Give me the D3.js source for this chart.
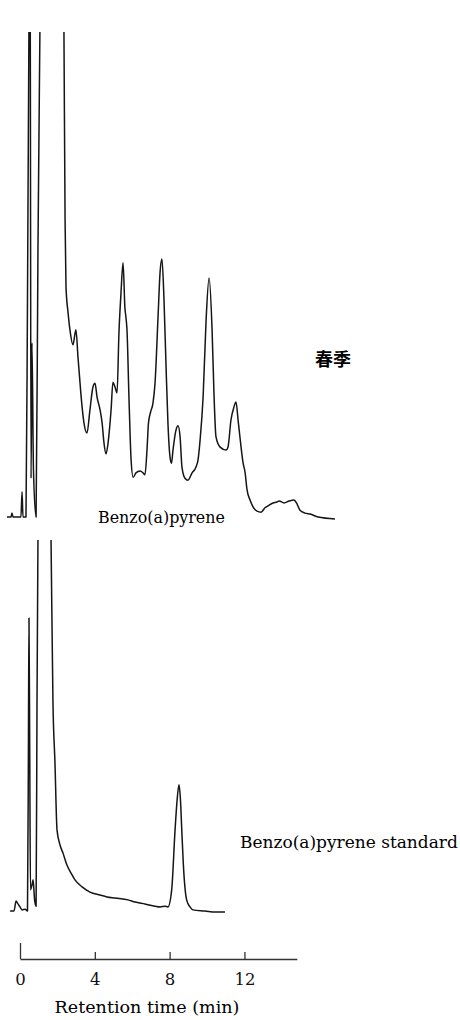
<!DOCTYPE html>
<html>
<head>
<meta charset="utf-8">
<script src="https://cdn.jsdelivr.net/npm/d3@7/dist/d3.min.js"></script>
<style>
  body { margin: 0; background: #fff; }
</style>
</head>
<body>
<svg id="chart" width="460" height="1020"></svg>
<script>
// spring sample chromatogram: retention time (min), response (100 = pen full scale)
const springTime = [-0.70, -0.48, -0.43, -0.37, 0.05, 0.11, 0.16, 0.32, 0.40, 0.48, 0.51, 0.55, 0.59, 0.64, 0.72, 0.86, 0.96, 1.07, 1.15, 2.25,
  2.35, 2.41, 2.46, 2.57, 2.67, 2.83, 2.99, 3.10, 3.21, 3.32, 3.42, 3.58, 3.74, 3.90, 4.01, 4.12, 4.28, 4.39, 4.49, 4.60,
  4.71, 4.87, 4.97, 5.08, 5.19, 5.29, 5.40, 5.51, 5.61, 5.67, 5.72, 5.83, 5.94, 6.05, 6.20, 6.42, 6.58, 6.68, 6.79, 6.87,
  6.98, 7.11, 7.22, 7.38, 7.49, 7.59, 7.70, 7.81, 7.91, 8.02, 8.10, 8.18, 8.34, 8.45, 8.56, 8.66, 8.82, 8.98, 9.20, 9.41,
  9.52, 9.63, 9.79, 9.95, 10.11, 10.27, 10.37, 10.48, 10.70, 11.02, 11.12, 11.28, 11.44, 11.55, 11.66, 11.76, 11.93, 12.03, 12.14, 12.30,
  12.46, 12.67, 12.89, 13.10, 13.26, 13.53, 13.74, 13.85, 14.12, 14.39, 14.65, 14.81, 14.97, 15.24, 15.51, 15.94, 16.84];
const springSignal = [0, 0, 0.8, 0, 0, 5.2, 0, 0, 44.7, 102.5, 130, 100, 8.0, 35.9, 9.7, 0, 55.1, 102.5, 140, 140,
  100, 61.2, 47.4, 42.1, 38.6, 35.5, 38.6, 33.0, 27.6, 22.7, 19.4, 17.3, 22.1, 26.8, 27.6, 24.7, 22.1, 19.4, 15.3, 13.0,
  15.3, 22.1, 27.8, 26.8, 25.6, 37.9, 46.2, 52.4, 43.1, 41.0, 38.6, 24.1, 11.8, 8.2, 9.1, 9.5, 9.1, 8.7, 13.8, 19.4,
  21.6, 23.5, 27.6, 41.2, 50.5, 53.2, 44.7, 30.9, 19.4, 12.4, 11.1, 13.8, 17.9, 18.8, 16.5, 10.3, 8.0, 7.6, 9.1, 10.3,
  11.8, 15.9, 24.7, 40.6, 49.3, 38.6, 25.6, 16.5, 14.4, 13.8, 14.4, 20.0, 22.7, 23.7, 20.0, 16.5, 11.1, 9.3, 5.6, 3.5,
  2.1, 1.2, 1.0, 1.9, 2.3, 2.9, 3.1, 3.3, 2.9, 3.3, 3.5, 2.7, 1.4, 0.8, 0.6, 0, -0.4];

// benzo(a)pyrene standard chromatogram
const stdTime = [-0.53, -0.32, -0.21, -0.11, 0, 0.11, 0.27, 0.40, 0.45, 0.48, 0.52, 0.56, 0.64, 0.70, 0.78, 0.86, 0.91, 0.96, 1.02, 1.55,
  1.66, 1.76, 1.87, 1.98, 2.14, 2.30, 2.51, 2.73, 2.94, 3.32, 3.74, 4.28, 4.65, 5.08, 5.78, 6.15, 6.68, 7.22, 7.49, 7.75,
  7.91, 8.11, 8.29, 8.40, 8.50, 8.58, 8.65, 8.73, 8.91, 9.09, 9.25, 9.89, 10.43, 10.96];
const stdSignal = [0, 0, 2.7, 1.9, 1.1, 0.3, 0.5, 0, 43.4, 79.0, 43.4, 5.7, 7.0, 8.4, 3.0, 1.3, 56.9, 100, 140, 140,
  100, 56.9, 39.9, 21.8, 17.8, 15.6, 12.4, 10.2, 8.4, 6.5, 5.1, 4.3, 3.8, 3.5, 3.0, 2.4, 1.9, 1.3, 1.1, 1.3,
  1.1, 5.7, 21.8, 29.9, 34.0, 29.9, 21.8, 12.9, 3.0, 1.1, 0.3, 0, -0.3, -0.3];

const tickValues = [0, 4, 8, 12];
const axisEnd = 14.8;

const svg = d3.select("#chart");
const serif = "'DejaVu Serif', 'Liberation Serif', serif";

const x = d3.scaleLinear().domain([0, axisEnd]).range([20, 296.8]);
const ySpring = d3.scaleLinear().domain([0, 100]).range([517, 32]);
const yStd = d3.scaleLinear().domain([0, 100]).range([911, 540]);

const defs = svg.append("defs");
defs.append("clipPath").attr("id", "clipSpring")
  .append("rect").attr("x", 0).attr("y", ySpring(100)).attr("width", 460).attr("height", 500);
defs.append("clipPath").attr("id", "clipStd")
  .append("rect").attr("x", 0).attr("y", yStd(100)).attr("width", 460).attr("height", 400);

function drawTrace(times, values, y, clipId) {
  const pts = times.map((t, i) => [t, values[i]]);
  const line = d3.line()
    .x(d => x(d[0]))
    .y(d => y(d[1]))
    .curve(d3.curveMonotoneX);
  svg.append("path")
    .datum(pts)
    .attr("clip-path", `url(#${clipId})`)
    .attr("fill", "none")
    .attr("stroke", "#151515")
    .attr("stroke-width", 1.5)
    .attr("stroke-linejoin", "round")
    .attr("d", line);
}

drawTrace(springTime, springSignal, ySpring, "clipSpring");
drawTrace(stdTime, stdSignal, yStd, "clipStd");

// scale a label's font so it spans about the same width as in the print
function fitWidth(sel, w) {
  const size = +sel.attr("font-size");
  const len = sel.node().getComputedTextLength();
  sel.attr("font-size", (size * w / len).toFixed(2));
}

svg.append("text")
  .attr("x", 333).attr("y", 366)
  .attr("text-anchor", "middle")
  .attr("font-family", "'Noto Sans CJK JP', 'Noto Sans CJK SC', sans-serif")
  .attr("font-size", 18).attr("font-weight", "bold")
  .text("春季");

svg.append("text")
  .attr("x", 98).attr("y", 523)
  .attr("font-family", serif).attr("font-size", 16)
  .text("Benzo(a)pyrene")
  .call(fitWidth, 127);

svg.append("text")
  .attr("x", 240).attr("y", 848)
  .attr("font-family", serif).attr("font-size", 16)
  .text("Benzo(a)pyrene standard")
  .call(fitWidth, 218);

// time axis
const axis = svg.append("g")
  .attr("transform", "translate(0,959)")
  .call(d3.axisBottom(x)
    .tickValues(tickValues)
    .tickSizeInner(-7)
    .tickSizeOuter(0)
    .tickPadding(14));

axis.select(".domain").attr("stroke", "#333").attr("stroke-width", 1.3);
axis.selectAll(".tick line").attr("stroke", "#333").attr("stroke-width", 1.3);
axis.selectAll(".tick").filter(d => d === 0).select("line").attr("y2", -16);
axis.selectAll(".tick text")
  .attr("font-family", serif)
  .attr("font-size", 16.5)
  .attr("fill", "#111");

svg.append("text")
  .attr("x", 147).attr("y", 1013)
  .attr("text-anchor", "middle")
  .attr("font-family", serif).attr("font-size", 16)
  .text("Retention time (min)")
  .call(fitWidth, 185);
</script>
</body>
</html>
